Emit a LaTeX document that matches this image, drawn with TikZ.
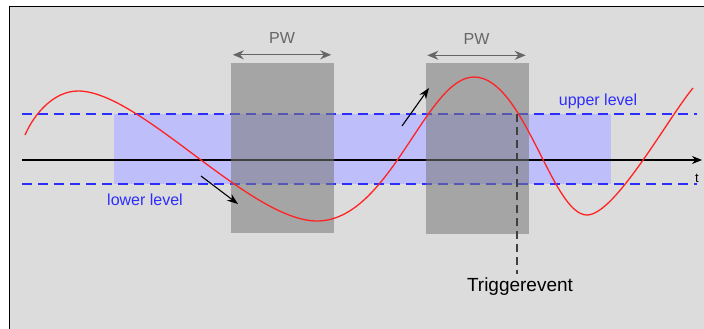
\documentclass[tikz,border=0pt]{standalone}
\usepackage{fontspec}
\setmainfont{Liberation Sans}
\usetikzlibrary{arrows.meta}

\definecolor{scopebg}{RGB}{220,220,220}
\definecolor{bandblue}{RGB}{190,190,250}
\definecolor{levelblue}{RGB}{45,45,255}
\definecolor{sigred}{RGB}{255,35,35}
\definecolor{wingray}{RGB}{120,120,120}

\begin{document}
\begin{tikzpicture}[
  x=1pt,y=-1pt,
  >=Stealth,
  level/.style={levelblue,line width=1.3pt,dash pattern=on 10pt off 6pt},
  window/.style={fill=wingray,fill opacity=.55,minimum width=103pt,minimum height=170pt,inner sep=0pt},
  pw/.style={{Stealth[length=11pt,width=9pt]}-{Stealth[length=11pt,width=9pt]},black!60,line width=1.4pt},
  lbl/.style={font=\fontsize{16}{18}\selectfont,text=levelblue},
  hint/.style={-{Stealth[length=11pt,width=8pt]},line width=1.1pt},
  trigline/.style={black!75,line width=1.2pt,dash pattern=on 8pt off 5pt}
]
  \useasboundingbox (0,0) rectangle (704,329);
  \draw[line width=1pt,fill=scopebg] (9.5,6.5) rectangle (720,345);

  % Level band and axis.
  \fill[bandblue] (114,114) rectangle (611,184);
  \draw[level] (22,114) -- (697,114);
  \draw[level] (22,184) -- (697,184);
  \draw[-{Stealth[length=10pt,width=8pt]},line width=1.1pt] (22,160) -- (702,160);
  \node[font=\fontsize{13}{15}\selectfont] (tlab) at (697,178) {t};

  % Pulse width windows.
  \node[window] (win1) at (282.5,148) {};
  \node[window] (win2) at (477,148.5) {};
  \draw[pw] ([shift={(2,-8)}]win1.north west) -- ([shift={(-3,-8)}]win1.north east)
    node[midway,above=7pt,text=black!60,font=\fontsize{16}{18}\selectfont] (pw1) {PW};
  \draw[pw] ([shift={(2,-8)}]win2.north west) -- ([shift={(-3,-8)}]win2.north east)
    node[midway,above=7pt,text=black!60,font=\fontsize{16}{18}\selectfont] (pw2) {PW};

  % Signal.
  \draw[sigred,line width=1.3pt] (25,135) .. controls (35,112) and (55,91) .. (78,91)
    .. controls (140,91) and (250,221) .. (317,221)
    .. controls (390,221) and (426,77) .. (474,77)
    .. controls (524,77) and (552,215) .. (587,215)
    .. controls (615,215) and (668,118) .. (693,88);

  % Level crossings and trigger.
  \coordinate (dn0) at (201,176);
  \coordinate (dn1) at (238,204);
  \coordinate (up0) at (402,126);
  \coordinate (up1) at (429,88);
  \draw[hint] (dn0) -- (dn1);
  \draw[hint] (up0) -- (up1);
  \node[lbl] (uplab) at (598,101) {upper level};
  \node[lbl] (lolab) at (145,200) {lower level};

  \coordinate (hit) at (517,114);
  \node[anchor=north,inner sep=.5pt,font=\fontsize{19}{21}\selectfont] (trig) at (520,277) {Triggerevent};
  \draw[trigline,shorten >=3pt] (hit) -- (hit |- trig.north);
\end{tikzpicture}
\end{document}
